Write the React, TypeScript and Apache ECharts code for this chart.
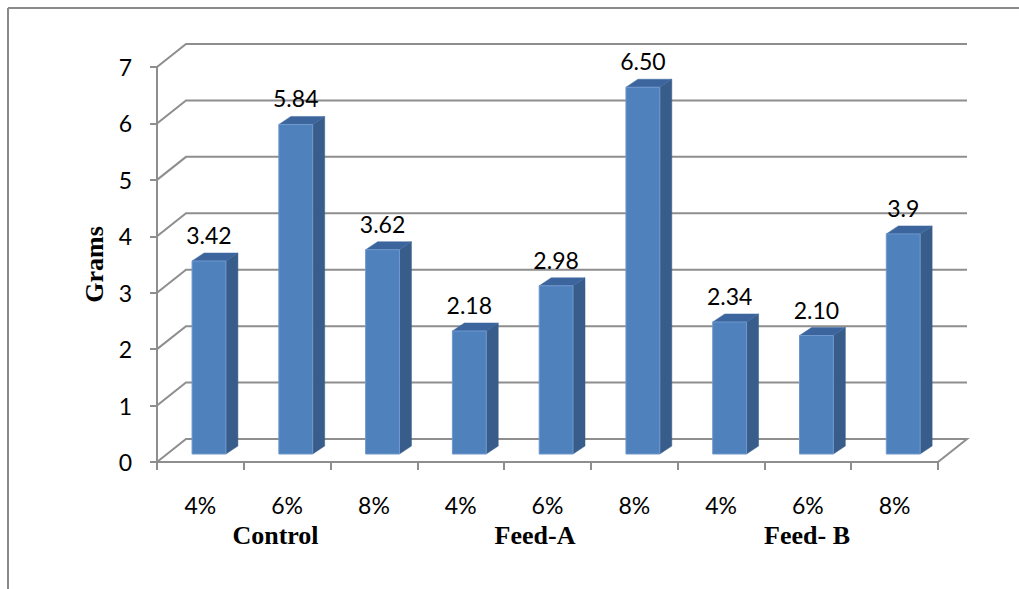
import React, { useEffect, useRef } from "react";
import * as echarts from "echarts";

const categories = ["4%", "6%", "8%", "4%", "6%", "8%", "4%", "6%", "8%"];
const groups = ["Control", "Feed-A", "Feed- B"];
const values = [3.42, 5.84, 3.62, 2.18, 2.98, 6.5, 2.34, 2.1, 3.9];
const valueLabels = ["3.42", "5.84", "3.62", "2.18", "2.98", "6.50", "2.34", "2.10", "3.9"];
const yTicks = [0, 1, 2, 3, 4, 5, 6, 7];
const yAxisName = "Grams";

const LINE = "#8e8e8e";
const SANS = "Lato, 'Open Sans', sans-serif";
const SERIF = "'Liberation Serif', 'DejaVu Serif', serif";

// 3D depth of the walls and the bars
const WALL_DX = 29;
const WALL_DY = -23;
const BAR_OX = 8.6;
const BAR_OY = -8;
const BAR_DX = 12;
const BAR_DY = -8;

export default function App() {
  const ref = useRef<HTMLDivElement>(null);

  useEffect(() => {
    document.body.style.margin = "0";
    const chart = echarts.init(ref.current!, undefined, { renderer: "svg" });

    const option: any = {
      animation: false,
      backgroundColor: "#ffffff",
      grid: { left: 157, right: 81, top: 67, bottom: 127, containLabel: false },
      xAxis: {
        type: "category",
        data: categories,
        boundaryGap: true,
        axisLine: { show: true, lineStyle: { color: LINE, width: 2 } },
        axisTick: { show: true, length: 8, lineStyle: { color: LINE, width: 2 } },
        axisLabel: { color: "#000", fontSize: 23, fontFamily: SANS, margin: 31 },
        splitLine: { show: false },
      },
      yAxis: {
        type: "value",
        min: 0,
        max: 7,
        interval: 1,
        name: yAxisName,
        nameLocation: "middle",
        nameRotate: 90,
        nameGap: 47,
        nameTextStyle: { fontFamily: SERIF, fontWeight: "bold", fontSize: 26, color: "#000" },
        axisLine: { show: true, lineStyle: { color: LINE, width: 2 } },
        axisTick: { show: true, length: 7, lineStyle: { color: LINE, width: 2 } },
        axisLabel: { color: "#000", fontSize: 23, fontFamily: SANS, margin: 25 },
        splitLine: { show: false },
      },
      series: [
        {
          type: "custom",
          z: 1,
          clip: false,
          silent: true,
          data: yTicks.map((t) => [0, t]),
          renderItem: (params: any, api: any) => {
            const t = api.value(1);
            const band = api.size([1, 0])[0];
            const pL = api.coord([0, t]);
            const pR = api.coord([categories.length - 1, t]);
            const xL = pL[0] - band / 2;
            const xR = pR[0] + band / 2;
            const y = pL[1];
            const pts =
              t === 0
                ? [
                    [xL, y],
                    [xL + WALL_DX, y + WALL_DY],
                    [xR + WALL_DX, y + WALL_DY],
                    [xR, y],
                  ]
                : [
                    [xL, y],
                    [xL + WALL_DX, y + WALL_DY],
                    [xR + WALL_DX, y + WALL_DY],
                  ];
            return {
              type: "polyline",
              shape: { points: pts },
              style: { stroke: LINE, lineWidth: 2, fill: "none" },
            };
          },
        },
        {
          type: "custom",
          z: 5,
          clip: false,
          data: values.map((v, i) => [i, v]),
          renderItem: (params: any, api: any) => {
            const i = api.value(0);
            const v = api.value(1);
            const band = api.size([1, 0])[0];
            const base = api.coord([i, 0]);
            const top = api.coord([i, v]);
            const w = band * 0.39;
            const cx = base[0] + BAR_OX;
            const xl = cx - w / 2;
            const xr = cx + w / 2;
            const yb = base[1] + BAR_OY;
            const yt = top[1] + BAR_OY;
            return {
              type: "group",
              children: [
                {
                  type: "polygon",
                  shape: {
                    points: [
                      [xr, yt],
                      [xr + BAR_DX, yt + BAR_DY],
                      [xr + BAR_DX, yb + BAR_DY],
                      [xr, yb],
                    ],
                  },
                  style: { fill: "#385D8A", stroke: "#3a5f8c", lineWidth: 0.5 },
                },
                {
                  type: "polygon",
                  shape: {
                    points: [
                      [xl, yt],
                      [xr, yt],
                      [xr + BAR_DX, yt + BAR_DY],
                      [xl + BAR_DX, yt + BAR_DY],
                    ],
                  },
                  style: { fill: "#3C659D", stroke: "#3f68a0", lineWidth: 0.5 },
                },
                {
                  type: "rect",
                  shape: { x: xl, y: yt, width: w, height: yb - yt },
                  style: { fill: "#4F81BD", stroke: "#6f98cc", lineWidth: 1 },
                },
                {
                  type: "text",
                  style: {
                    text: valueLabels[i],
                    x: cx,
                    y: yt - 26,
                    align: "center",
                    verticalAlign: "middle",
                    fontSize: 23,
                    fontFamily: SANS,
                    fill: "#000",
                  },
                },
              ],
            };
          },
        },
      ],
      graphic: [
        {
          type: "line",
          shape: { x1: 8, y1: 8, x2: 1019, y2: 8 },
          style: { stroke: "#8a8a8a", lineWidth: 2 },
        },
        {
          type: "line",
          shape: { x1: 8, y1: 8, x2: 8, y2: 589 },
          style: { stroke: "#8a8a8a", lineWidth: 2 },
        },
        ...groups.map((g, k) => ({
          type: "text",
          x: [275.5, 535, 807][k],
          y: 535,
          style: {
            text: g,
            align: "center",
            verticalAlign: "middle",
            fontSize: 26,
            fontWeight: "bold",
            fontFamily: SERIF,
            fill: "#000",
          },
        })),
      ],
    };

    chart.setOption(option);
    return () => chart.dispose();
  }, []);

  return (
    <div
      ref={ref}
      style={{ position: "absolute", left: 0, top: 0, width: 1019, height: 589 }}
    />
  );
}
